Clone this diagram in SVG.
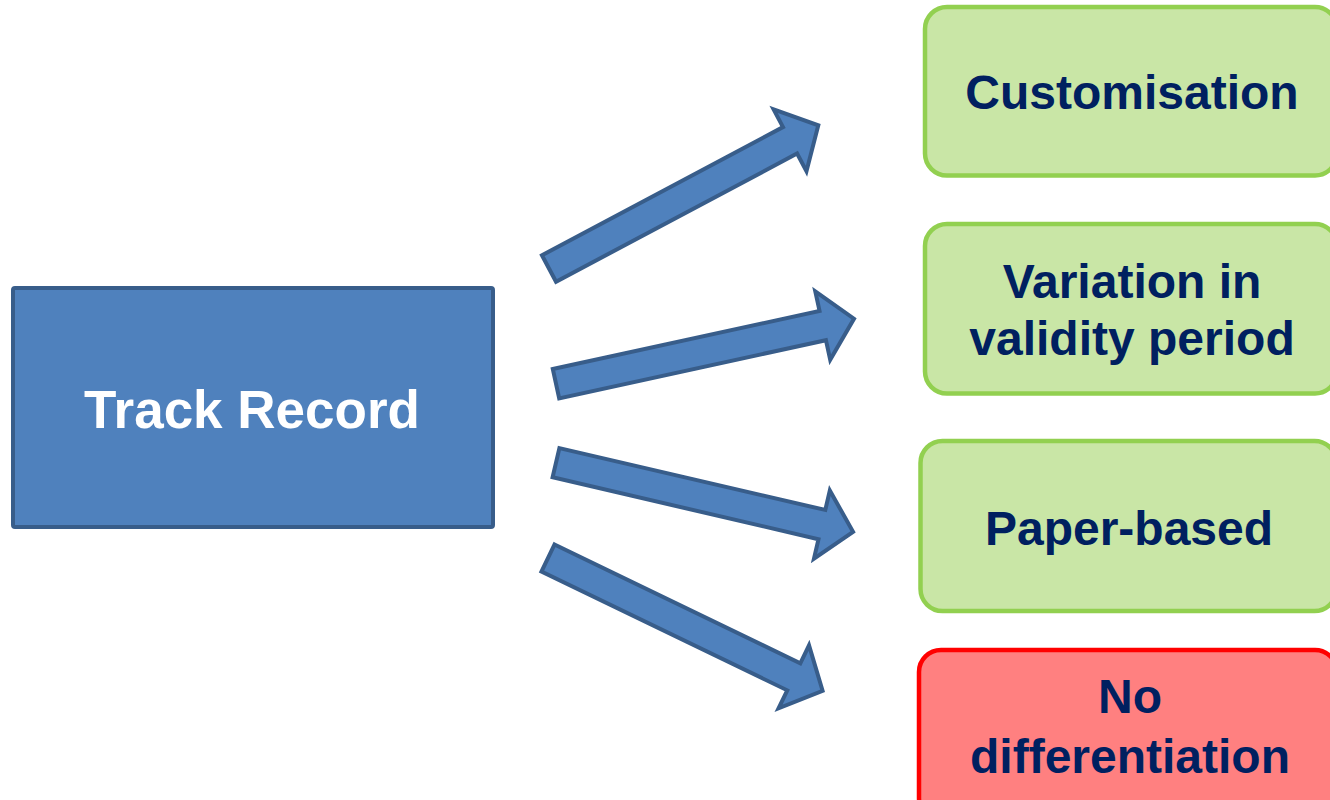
<svg xmlns="http://www.w3.org/2000/svg" width="1330" height="800" viewBox="0 0 1330 800">
<style>
.src{fill:#4f81bd;stroke:#385d8a;stroke-width:4}
.arr{fill:#4f81bd;stroke:#385d8a;stroke-width:4;stroke-linejoin:miter}
.ok{fill:#c9e6a6;stroke:#92d050;stroke-width:4.5}
.bad{fill:#ff8080;stroke:#ff0000;stroke-width:4.5}
.lbl{font-family:"Liberation Sans",Arial,sans-serif;font-weight:bold;font-size:48px;fill:#002060;text-anchor:middle}
.wl{font-family:"Liberation Sans",Arial,sans-serif;font-weight:bold;font-size:53px;fill:#ffffff;text-anchor:middle}
</style>
<defs>
<polygon id="arrowShape" points="0,-15 273,-15 273,-35 305,0 273,35 273,15 0,15"/>
</defs>
<rect width="1330" height="800" fill="#ffffff"/>
<g id="track-record">
<rect class="src" x="13" y="288" width="480" height="239" rx="2"/>
<text class="wl" x="252" y="428">Track Record</text>
</g>
<g id="connectors">
<use href="#arrowShape" class="arr" transform="translate(549,268.5) rotate(-28)"/>
<use href="#arrowShape" class="arr" transform="translate(556,383.7) rotate(-12.3)"/>
<use href="#arrowShape" class="arr" transform="translate(556,462.7) rotate(13.1)"/>
<use href="#arrowShape" class="arr" transform="translate(548,558) rotate(25.8)"/>
</g>
<g id="customisation">
<rect class="ok" x="925" y="7" width="412" height="168.5" rx="22"/>
<text class="lbl" x="1132" y="109">Customisation</text>
</g>
<g id="variation">
<rect class="ok" x="925" y="224" width="412" height="169.5" rx="22"/>
<text class="lbl" x="1132" y="298">Variation in</text>
<text class="lbl" x="1132" y="355">validity period</text>
</g>
<g id="paper-based">
<rect class="ok" x="920.5" y="441" width="416" height="170" rx="22"/>
<text class="lbl" x="1129" y="545">Paper-based</text>
</g>
<g id="no-differentiation">
<rect class="bad" x="919" y="650" width="418" height="170" rx="22"/>
<text class="lbl" x="1130" y="713">No</text>
<text class="lbl" x="1130" y="773">differentiation</text>
</g>
</svg>
